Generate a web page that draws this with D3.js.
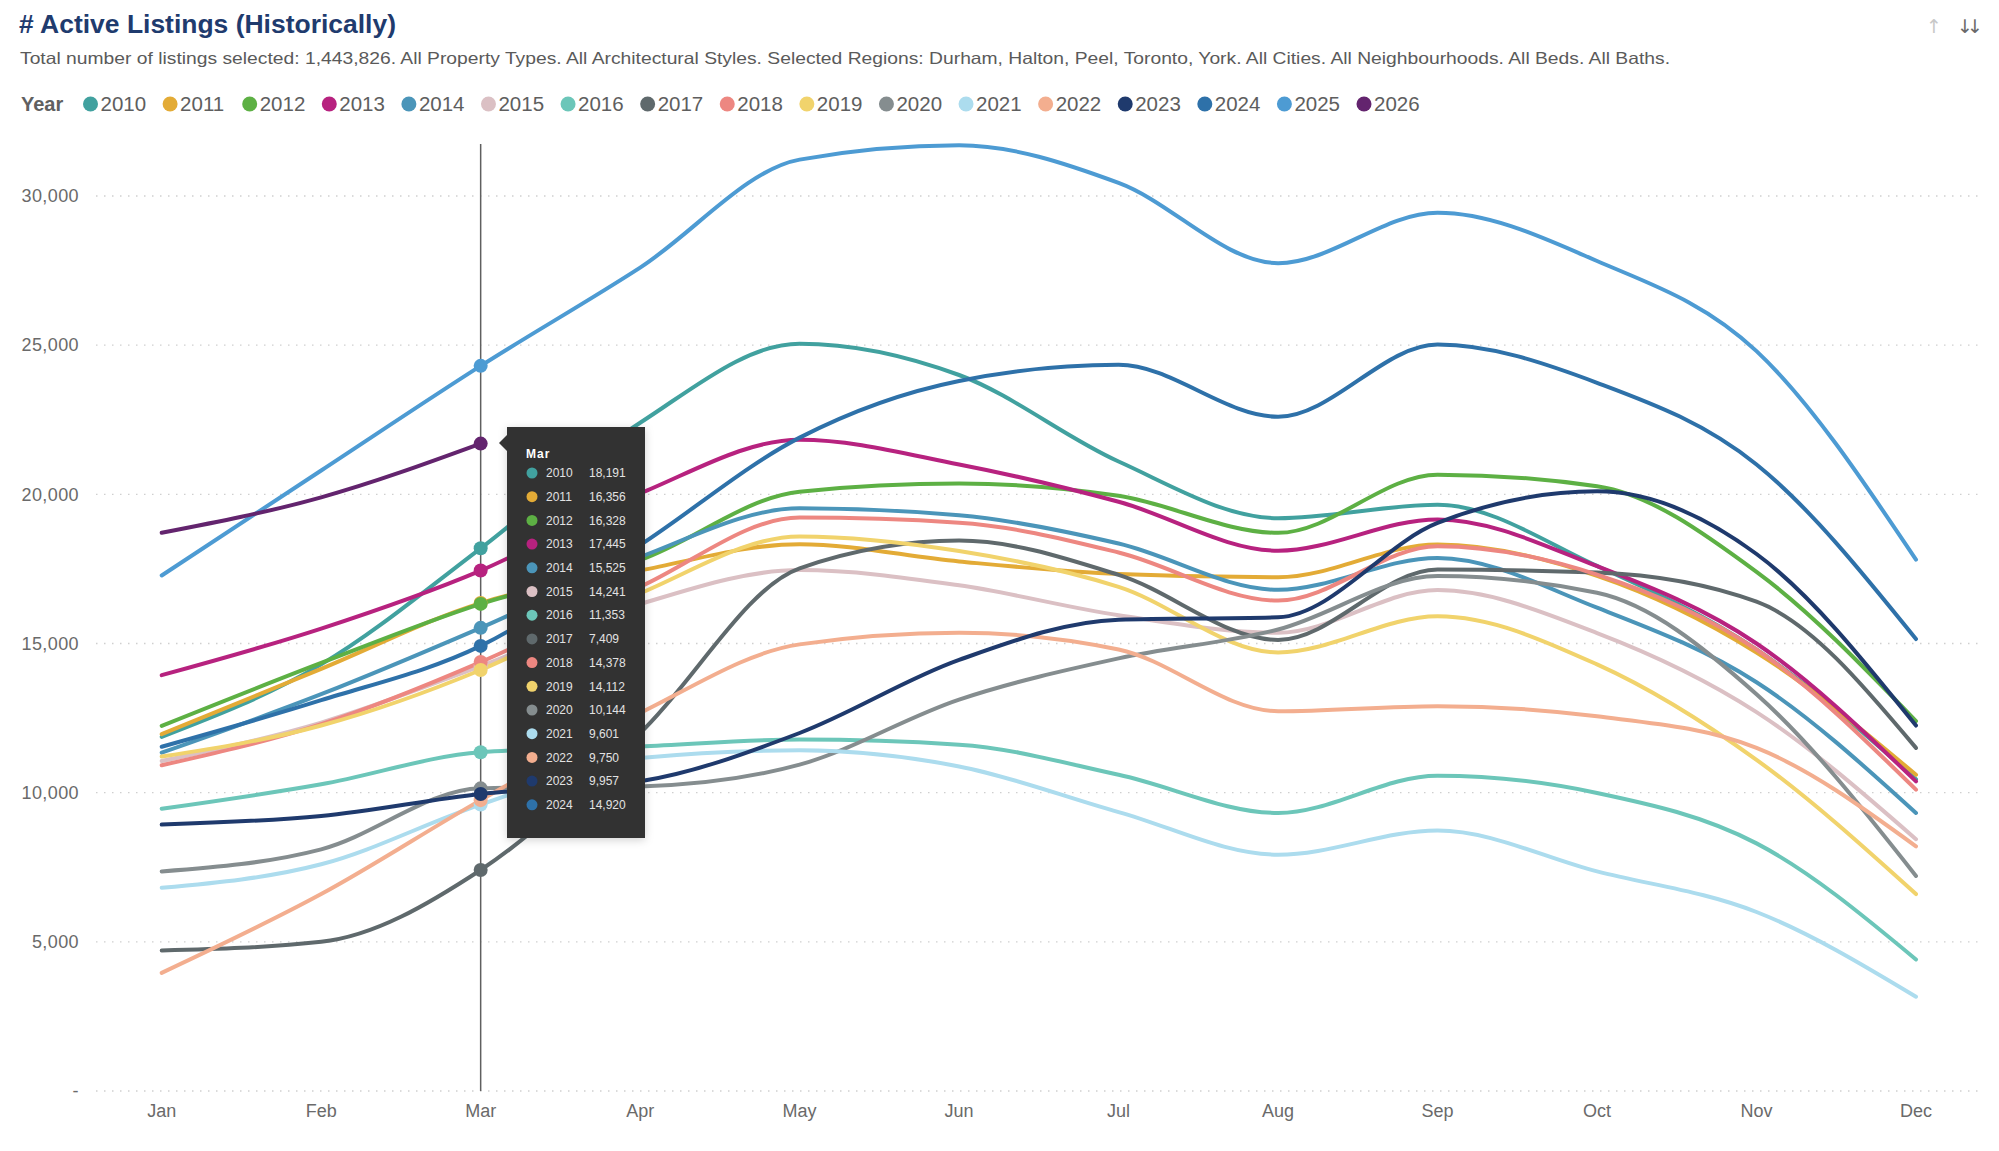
<!DOCTYPE html>
<html><head><meta charset="utf-8">
<script src="https://cdn.jsdelivr.net/npm/d3@7/dist/d3.min.js"></script>
<style>
html,body{margin:0;padding:0;background:#fff;}
svg{display:block;font-family:"Liberation Sans",Arial,Helvetica,sans-serif;}
</style>
</head><body>
<svg id="chart" width="1999" height="1151"></svg>
<script>
// ---------- DATA ----------
const titleText = "# Active Listings (Historically)";
const subtitleText = "Total number of listings selected: 1,443,826. All Property Types. All Architectural Styles. Selected Regions: Durham, Halton, Peel, Toronto, York. All Cities. All Neighbourhoods. All Beds. All Baths.";
const legendTitle = "Year";
const months = ["Jan","Feb","Mar","Apr","May","Jun","Jul","Aug","Sep","Oct","Nov","Dec"];
const years = ["2010","2011","2012","2013","2014","2015","2016","2017","2018","2019","2020","2021","2022","2023","2024","2025","2026"];
const yearColors = ["#41a19f","#e3ab36","#5db044","#b7227f","#4b95b9","#dbc0c4","#6cc6b9","#5f696c","#ed8781","#f1d36c","#858d8f","#acdcee","#f3ae8f","#1f3a6d","#2e71a9","#4d9bd3","#63246e"];

const v2010 = [11870, 14300, 18191, 22400, 25050, 24000, 21100, 19200, 19650, 17600, 14800, 10450];
const v2011 = [11960, 14150, 16356, 17450, 18330, 17750, 17330, 17220, 18320, 17270, 14700, 10600];
const v2012 = [12240, 14350, 16328, 17800, 20090, 20360, 19950, 18710, 20660, 20270, 17400, 12400];
const v2013 = [13940, 15500, 17445, 20030, 21830, 21000, 19750, 18110, 19160, 17590, 15000, 10380];
const v2014 = [11340, 13300, 15525, 17900, 19530, 19300, 18350, 16800, 17870, 16200, 13700, 9320];
const v2015 = [11060, 12350, 14241, 16320, 17460, 16950, 15950, 15360, 16790, 15350, 12700, 8440];
const v2016 = [9460, 10280, 11353, 11550, 11780, 11610, 10600, 9320, 10570, 9990, 8300, 4410];
const v2017 = [4710, 5000, 7409, 12000, 17520, 18450, 17300, 15120, 17480, 17380, 16400, 11500];
const v2018 = [10920, 12300, 14378, 16900, 19220, 19050, 18050, 16440, 18260, 17310, 14800, 10100];
const v2019 = [11210, 12250, 14112, 16680, 18590, 18100, 16900, 14700, 15910, 14300, 11100, 6600];
const v2020 = [7360, 8100, 10144, 10210, 10940, 13120, 14500, 15470, 17260, 16700, 13300, 7210];
const v2021 = [6810, 7600, 9601, 11160, 11420, 10880, 9350, 7920, 8730, 7360, 6000, 3160];
const v2022 = [3960, 6600, 9750, 12670, 14970, 15360, 14800, 12730, 12900, 12560, 11500, 8200];
const v2023 = [8930, 9220, 9957, 10380, 12000, 14450, 15800, 15880, 19040, 20100, 18000, 12250];
const v2024 = [11540, 13100, 14920, 18300, 21900, 23800, 24340, 22600, 25020, 23740, 21000, 15150];
const v2025 = [17280, 20800, 24306, 27600, 31220, 31700, 30440, 27750, 29440, 27820, 24800, 17810];
const v2026 = [18710, 19900, 21700];

const yTickValues = [0, 5000, 10000, 15000, 20000, 25000, 30000];
const hoverMonth = "Mar";
const tooltipYears = ["2010","2011","2012","2013","2014","2015","2016","2017","2018","2019","2020","2021","2022","2023","2024"];

// ---------- BUILD ----------
const seriesValues = [v2010,v2011,v2012,v2013,v2014,v2015,v2016,v2017,v2018,v2019,v2020,v2021,v2022,v2023,v2024,v2025,v2026];
const series = years.map((y,i)=>({year:y, color:yearColors[i], values:seriesValues[i].map((v,j)=>({m:months[j], v}))}));

const svg = d3.select("#chart");
const W = 1999, H = 1151;
svg.append("rect").attr("width",W).attr("height",H).attr("fill","#fff");

const x = d3.scalePoint().domain(months).range([161.7, 1916]);
const y = d3.scaleLinear().domain([0, 30000]).range([1091, 196]);

// Title
svg.append("text").attr("x",19).attr("y",33).attr("font-size",25).attr("font-weight","bold")
  .attr("fill","#1f3b6e").attr("textLength",377).attr("lengthAdjust","spacingAndGlyphs").text(titleText);
svg.append("text").attr("x",20).attr("y",64).attr("font-size",16.5).attr("fill","#5a5a5a")
  .attr("textLength",1650).attr("lengthAdjust","spacingAndGlyphs").text(subtitleText);

// top-right icons
svg.append("text").attr("x",1934).attr("y",33).attr("font-family","DejaVu Sans").attr("font-size",19).attr("fill","#c8c8c8").attr("text-anchor","middle").text("↑");
svg.append("text").attr("x",1967).attr("y",33).attr("font-family","DejaVu Sans").attr("font-size",19).attr("fill","#6a6a6a").attr("text-anchor","middle").attr("letter-spacing",-6).text("↓↓");

// Legend
const lg = svg.append("g").attr("transform","translate(0,104)");
lg.append("text").attr("x",21).attr("y",0).attr("dy","0.35em").attr("font-size",20).attr("font-weight","bold").attr("fill","#606060").text(legendTitle);
const legendStep = (1364 - 90.5) / (years.length - 1);
years.forEach((yr,i)=>{
  const cx = 90.5 + i*legendStep;
  lg.append("circle").attr("cx",cx).attr("cy",0).attr("r",7.5).attr("fill",yearColors[i]);
  lg.append("text").attr("x",cx+10).attr("y",0).attr("dy","0.35em").attr("font-size",20.5).attr("fill","#5e5e5e").text(yr);
});

// Grid + y axis
const grid = svg.append("g");
yTickValues.forEach(t=>{
  grid.append("line").attr("x1",96).attr("x2",1983).attr("y1",y(t)).attr("y2",y(t))
    .attr("stroke","#cfcfcf").attr("stroke-width",1.4).attr("stroke-dasharray","1.5,6.5");
  grid.append("text").attr("x",79).attr("y",y(t)).attr("dy","0.35em").attr("text-anchor","end")
    .attr("font-size",18).attr("letter-spacing",0.4).attr("fill","#6a6a6a")
    .text(t===0 ? "-" : d3.format(",")(t));
});

// x axis labels
months.forEach(m=>{
  svg.append("text").attr("x",x(m)).attr("y",1117).attr("text-anchor","middle")
    .attr("font-size",18).attr("fill","#6a6a6a").text(m);
});

// hover line
svg.append("line").attr("x1",x(hoverMonth)).attr("x2",x(hoverMonth)).attr("y1",144).attr("y2",y(0))
  .attr("stroke","#5f5f5f").attr("stroke-width",1.5);

// Lines
const line = d3.line().x(d=>x(d.m)).y(d=>y(d.v)).curve(d3.curveMonotoneX);
svg.append("g").selectAll("path").data(series).join("path")
  .attr("d",d=>line(d.values)).attr("fill","none").attr("stroke",d=>d.color)
  .attr("stroke-width",4).attr("stroke-linecap","round").attr("stroke-linejoin","round");

// Hover dots
const hi = months.indexOf(hoverMonth);
svg.append("g").selectAll("circle").data(series.filter(s=>s.values[hi])).join("circle")
  .attr("cx",x(hoverMonth)).attr("cy",d=>y(d.values[hi].v)).attr("r",7).attr("fill",d=>d.color);

// Tooltip
const tip = svg.append("g").attr("transform","translate(507,427)");
const tipW = 138, tipH = 411;
const defs = svg.append("defs");
const f = defs.append("filter").attr("id","sh").attr("x","-20%").attr("y","-10%").attr("width","140%").attr("height","120%");
f.append("feDropShadow").attr("dx",0).attr("dy",2).attr("stdDeviation",4).attr("flood-color","#000").attr("flood-opacity",0.18);
tip.append("rect").attr("width",tipW).attr("height",tipH).attr("fill","#333333").attr("filter","url(#sh)");
tip.append("path").attr("d","M0,8 L-8,16 L0,24 Z").attr("fill","#333333");
tip.append("text").attr("x",19).attr("y",31).attr("font-size",12).attr("font-weight","bold").attr("letter-spacing",1).attr("fill","#ffffff").text(hoverMonth);
tooltipYears.forEach((yr,i)=>{
  const s = series[years.indexOf(yr)];
  const cy = 46 + i*23.7;
  tip.append("circle").attr("cx",25).attr("cy",cy).attr("r",5.5).attr("fill",s.color);
  tip.append("text").attr("x",39).attr("y",cy).attr("dy","0.35em").attr("font-size",12).attr("fill","#e2e2e2").text(yr);
  tip.append("text").attr("x",82).attr("y",cy).attr("dy","0.35em").attr("font-size",12).attr("fill","#e2e2e2").text(d3.format(",")(s.values[hi].v));
});
</script>
</body></html>
